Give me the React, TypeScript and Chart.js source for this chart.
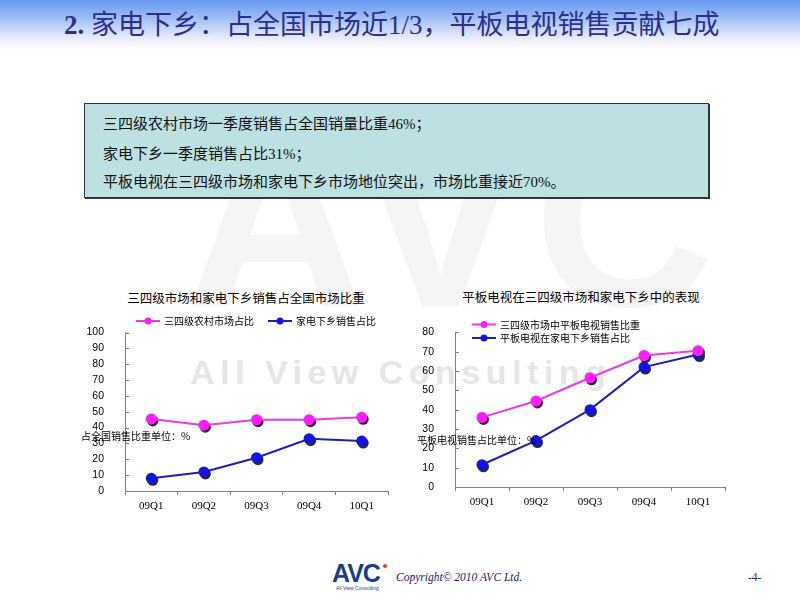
import React, { useEffect, useRef } from "react";
import { Chart, registerables } from "chart.js";

Chart.register(...registerables);

const quarters = ["09Q1", "09Q2", "09Q3", "09Q4", "10Q1"];
const ruralShare = [45.5, 41.5, 45, 45, 46.5];
const subsidyShare = [8, 12, 21, 33, 31.5];
const flatRural = [36, 44.5, 56.5, 68, 70.5];
const flatSubsidy = [11.5, 24, 40, 62, 68.5];

const chart1Labels = ["三四级农村市场占比", "家电下乡销售占比"];
const chart2Labels = ["三四级市场中平板电视销售比重", "平板电视在家电下乡销售占比"];

const PINK_LINE = "#e43de4";
const PINK_DOT = "#ff1cff";
const BLUE_LINE = "#1f1fb0";
const BLUE_DOT = "#1414e0";

const CJK = "'Noto Sans CJK SC', sans-serif";

const shadowPlugin = {
  id: "dotShadow",
  beforeDatasetDraw(chart: any, args: any) {
    const ctx = chart.ctx;
    ctx.save();
    ctx.fillStyle = "rgba(20,20,20,0.9)";
    for (const el of args.meta.data) {
      ctx.beginPath();
      ctx.arc(el.x + 1.5, el.y + 2, 5.5, 0, Math.PI * 2);
      ctx.fill();
    }
    ctx.restore();
  },
};

const innerTicksPlugin = {
  id: "innerTicks",
  afterDraw(chart: any) {
    const ctx = chart.ctx;
    const y = chart.scales.y;
    const left = chart.chartArea.left;
    ctx.save();
    ctx.strokeStyle = "#808080";
    ctx.lineWidth = 1;
    for (const t of y.ticks) {
      const py = Math.round(y.getPixelForValue(t.value)) + 0.5;
      ctx.beginPath();
      ctx.moveTo(left, py);
      ctx.lineTo(left + 4, py);
      ctx.stroke();
    }
    ctx.restore();
  },
};

const customLegendPlugin = {
  id: "customLegend",
  afterDraw(chart: any, _args: any, opts: any) {
    const ctx = chart.ctx;
    const positions = opts.positions || [];
    ctx.save();
    chart.data.datasets.forEach((ds: any, i: number) => {
      const p = positions[i];
      if (!p) return;
      ctx.strokeStyle = ds.borderColor;
      ctx.lineWidth = 2;
      ctx.beginPath();
      ctx.moveTo(p.x, p.y);
      ctx.lineTo(p.x + 24, p.y);
      ctx.stroke();
      ctx.fillStyle = ds.pointBackgroundColor;
      ctx.beginPath();
      ctx.arc(p.x + 12, p.y, 3.5, 0, Math.PI * 2);
      ctx.fill();
      ctx.fillStyle = "#000";
      ctx.font = "10px " + CJK;
      ctx.textBaseline = "middle";
      ctx.textAlign = "left";
      ctx.fillText(ds.label, p.x + 28, p.y + 0.5);
    });
    ctx.restore();
  },
};

function makeConfig(
  labels: string[],
  seriesA: number[],
  seriesB: number[],
  names: string[],
  yMax: number,
  yWidth: number,
  padding: any,
  legendPos: any[]
): any {
  return {
    type: "line",
    data: {
      labels,
      datasets: [
        {
          label: names[0],
          data: seriesA,
          borderColor: PINK_LINE,
          backgroundColor: PINK_DOT,
          pointBackgroundColor: PINK_DOT,
          pointBorderColor: PINK_DOT,
          pointBorderWidth: 0,
          pointRadius: 5.5,
          borderWidth: 2,
          tension: 0,
        },
        {
          label: names[1],
          data: seriesB,
          borderColor: BLUE_LINE,
          backgroundColor: BLUE_DOT,
          pointBackgroundColor: BLUE_DOT,
          pointBorderColor: BLUE_DOT,
          pointBorderWidth: 0,
          pointRadius: 5.5,
          borderWidth: 2,
          tension: 0,
        },
      ],
    },
    options: {
      responsive: false,
      animation: false,
      devicePixelRatio: 1,
      layout: { padding },
      plugins: {
        legend: { display: false },
        title: { display: false },
        tooltip: { enabled: false },
        customLegend: { positions: legendPos },
      },
      scales: {
        x: {
          type: "category",
          offset: true,
          grid: {
            display: true,
            drawOnChartArea: false,
            drawTicks: true,
            tickLength: 4,
            offset: true,
            color: "#808080",
          },
          border: { display: true, color: "#808080" },
          ticks: {
            color: "#000",
            font: { family: "'Liberation Serif', serif", size: 11 },
            padding: 5,
            maxRotation: 0,
            autoSkip: false,
          },
          afterFit: (s: any) => {
            s.height = 25;
          },
        },
        y: {
          min: 0,
          max: yMax,
          grid: { display: false },
          border: { display: true, color: "#808080" },
          ticks: {
            stepSize: 10,
            color: "#000",
            font: { family: "'Liberation Sans', sans-serif", size: 10.5 },
            padding: 13,
          },
          afterFit: (s: any) => {
            s.width = yWidth;
          },
        },
      },
    },
    plugins: [shadowPlugin, innerTicksPlugin, customLegendPlugin],
  };
}

function LineChart(props: { config: any; style: any; width: number; height: number }) {
  const ref = useRef<HTMLCanvasElement | null>(null);
  useEffect(() => {
    if (!ref.current) return;
    const chart = new Chart(ref.current, props.config);
    return () => chart.destroy();
  }, []);
  return <canvas ref={ref} width={props.width} height={props.height} style={{ ...props.style, width: props.width, height: props.height }} />;
}

export default function App() {
  const config1 = makeConfig(
    quarters,
    ruralShare,
    subsidyShare,
    chart1Labels,
    100,
    65,
    { left: 0, right: 7, top: 32.5, bottom: 4 },
    [
      { x: 76, y: 21 },
      { x: 208, y: 21 },
    ]
  );
  const config2 = makeConfig(
    quarters,
    flatRural,
    flatSubsidy,
    chart2Labels,
    80,
    60,
    { left: 0, right: 15, top: 32.3, bottom: 8 },
    [
      { x: 77, y: 24.5 },
      { x: 77, y: 38 },
    ]
  );

  const abs = (o: any) => ({ position: "absolute", ...o } as any);

  return (
    <div
      style={{
        position: "fixed",
        left: 0,
        top: 0,
        width: 800,
        height: 600,
        background: "#fff",
        overflow: "hidden",
        fontFamily: CJK,
      }}
    >
      {/* watermark */}
      <div
        style={abs({
          left: 185,
          top: 95,
          fontFamily: "'Liberation Sans', sans-serif",
          fontWeight: 700,
          fontSize: 250,
          lineHeight: "250px",
          color: "#f5f5f5",
          letterSpacing: 10,
          whiteSpace: "nowrap",
        })}
      >
        AVC
      </div>
      <div
        style={abs({
          left: 190,
          top: 352,
          fontFamily: "'Liberation Sans', sans-serif",
          fontWeight: 700,
          fontSize: 34,
          lineHeight: "40px",
          color: "#e6e6e6",
          letterSpacing: 5.5,
          whiteSpace: "nowrap",
        })}
      >
        All View Consulting
      </div>

      {/* title band */}
      <div
        style={abs({
          left: 0,
          top: 0,
          width: 800,
          height: 50,
          background: "linear-gradient(to bottom, #6597f2 0%, #9dbdf5 35%, #dfe6fa 70%, #fbf8fc 92%, #ffffff 100%)",
        })}
      />
      <div
        style={abs({
          left: 64,
          top: 8,
          height: 34,
          lineHeight: "34px",
          fontSize: 27,
          color: "#2e2e8f",
          fontFamily: "'Liberation Serif', 'Noto Sans CJK SC', serif",
          whiteSpace: "nowrap",
        })}
      >
        <b>2.</b> 家电下乡：占全国市场近1/3，平板电视销售贡献七成
      </div>

      {/* text box */}
      <div
        style={abs({
          left: 84,
          top: 103,
          width: 623,
          height: 93,
          background: "#bde0e3",
          border: "1px solid #333",
          boxShadow: "1px 1px 0 #333",
        })}
      />
      {[
        { t: "三四级农村市场一季度销售占全国销量比重46%；", y: 124 },
        { t: "家电下乡一季度销售占比31%；", y: 154 },
        { t: "平板电视在三四级市场和家电下乡市场地位突出，市场比重接近70%。", y: 182 },
      ].map((l, i) => (
        <div
          key={i}
          style={abs({
            left: 103,
            top: l.y - 11,
            height: 22,
            lineHeight: "22px",
            fontSize: 15,
            color: "#111",
            fontFamily: "'Liberation Serif', 'Noto Sans CJK SC', serif",
            whiteSpace: "nowrap",
          })}
        >
          {l.t}
        </div>
      ))}

      {/* chart titles */}
      <div style={abs({ left: 96, width: 300, top: 289, lineHeight: "18px", fontSize: 12.5, textAlign: "center", color: "#000" })}>
        三四级市场和家电下乡销售占全国市场比重
      </div>
      <div style={abs({ left: 431, width: 300, top: 288, lineHeight: "18px", fontSize: 12.5, textAlign: "center", color: "#000" })}>
        平板电视在三四级市场和家电下乡中的表现
      </div>

      <LineChart config={config1} width={335} height={220} style={abs({ left: 60, top: 300 })} />
      <LineChart config={config2} width={345} height={220} style={abs({ left: 395, top: 300 })} />

      {/* axis unit labels */}
      <div style={abs({ left: 81, top: 429, lineHeight: "14px", fontSize: 10, color: "#000", whiteSpace: "nowrap" })}>
        占全国销售比重单位：%
      </div>
      <div style={abs({ left: 417, top: 433, lineHeight: "14px", fontSize: 10, color: "#000", whiteSpace: "nowrap" })}>
        平板电视销售占比单位：%
      </div>

      {/* footer */}
      <div
        style={abs({
          left: 332,
          top: 561,
          fontFamily: "'Liberation Sans', sans-serif",
          fontWeight: 700,
          fontSize: 25,
          lineHeight: "25px",
          color: "#1b3c8c",
          letterSpacing: -1,
          whiteSpace: "nowrap",
        })}
      >
        AVC
      </div>
      <div style={abs({ left: 383, top: 564, width: 4, height: 4, background: "#e23a2a", borderRadius: 2 })} />
      <div
        style={abs({
          left: 336,
          top: 585,
          fontFamily: "'Liberation Sans', sans-serif",
          fontSize: 5,
          lineHeight: "6px",
          color: "#1b3c8c",
          whiteSpace: "nowrap",
        })}
      >
        All View Consulting
      </div>
      <div
        style={abs({
          left: 396,
          top: 570,
          fontFamily: "'Liberation Serif', serif",
          fontStyle: "italic",
          fontSize: 11.5,
          lineHeight: "14px",
          color: "#1a1a70",
          whiteSpace: "nowrap",
        })}
      >
        Copyright© 2010 AVC Ltd.
      </div>
      <div
        style={abs({
          left: 748,
          top: 570,
          fontFamily: "'Liberation Serif', serif",
          fontSize: 11.5,
          lineHeight: "14px",
          color: "#2a2a80",
          whiteSpace: "nowrap",
        })}
      >
        -4-
      </div>
    </div>
  );
}
